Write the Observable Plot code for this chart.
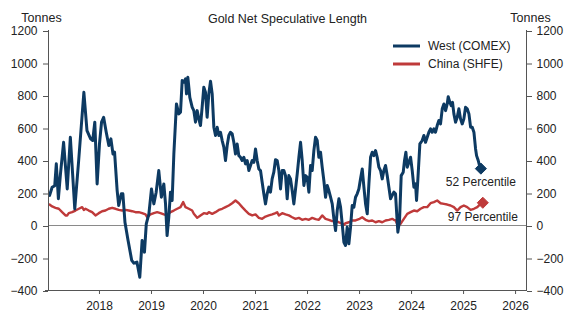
<!DOCTYPE html>
<html><head><meta charset="utf-8">
<script src="https://cdn.jsdelivr.net/npm/d3@7"></script>
<script src="https://cdn.jsdelivr.net/npm/@observablehq/plot@0.6"></script>
<style>body{margin:0;background:#fff} #chart{width:573px;height:322px}</style>
</head><body><div id="chart"></div>
<script>
// ---- data (decimal years, tonnes) ----
const westYears = [2017.04,2017.09,2017.14,2017.17,2017.21,2017.25,2017.31,2017.38,2017.44,2017.525,2017.60,2017.70,2017.76,2017.83,2017.87,2017.91,2017.955,2018.00,2018.04,2018.08,2018.13,2018.18,2018.22,2018.26,2018.29,2018.34,2018.37,2018.42,2018.45,2018.49,2018.55,2018.62,2018.66,2018.72,2018.775,2018.82,2018.865,2018.90,2018.95,2019.00,2019.045,2019.09,2019.14,2019.19,2019.237,2019.27,2019.30,2019.333,2019.365,2019.397,2019.43,2019.48,2019.525,2019.558,2019.59,2019.622,2019.654,2019.673,2019.699,2019.718,2019.737,2019.782,2019.814,2019.846,2019.878,2019.91,2019.942,2019.974,2020.006,2020.038,2020.07,2020.102,2020.135,2020.167,2020.199,2020.231,2020.263,2020.295,2020.327,2020.359,2020.391,2020.423,2020.455,2020.487,2020.519,2020.551,2020.583,2020.615,2020.647,2020.679,2020.711,2020.743,2020.776,2020.808,2020.84,2020.872,2020.904,2020.936,2020.968,2021.0,2021.032,2021.064,2021.096,2021.128,2021.16,2021.192,2021.224,2021.256,2021.288,2021.32,2021.352,2021.384,2021.417,2021.449,2021.481,2021.513,2021.545,2021.577,2021.609,2021.641,2021.673,2021.705,2021.737,2021.77,2021.802,2021.834,2021.866,2021.898,2021.93,2021.962,2021.994,2022.026,2022.058,2022.09,2022.122,2022.154,2022.186,2022.218,2022.25,2022.282,2022.314,2022.347,2022.379,2022.41,2022.443,2022.475,2022.507,2022.539,2022.571,2022.603,2022.635,2022.667,2022.699,2022.731,2022.763,2022.795,2022.827,2022.859,2022.891,2022.923,2022.955,2022.987,2023.019,2023.052,2023.084,2023.116,2023.148,2023.18,2023.212,2023.244,2023.276,2023.308,2023.34,2023.372,2023.404,2023.436,2023.468,2023.5,2023.532,2023.564,2023.596,2023.628,2023.66,2023.692,2023.711,2023.737,2023.769,2023.801,2023.84,2023.865,2023.891,2023.917,2023.949,2023.981,2024.013,2024.045,2024.077,2024.096,2024.122,2024.16,2024.205,2024.237,2024.269,2024.301,2024.333,2024.365,2024.397,2024.429,2024.461,2024.493,2024.525,2024.557,2024.59,2024.622,2024.654,2024.686,2024.705,2024.737,2024.763,2024.788,2024.814,2024.846,2024.878,2024.91,2024.942,2024.974,2025.006,2025.038,2025.07,2025.103,2025.135,2025.167,2025.199,2025.231,2025.25,2025.282,2025.314,2025.333];
const westValues = [185,235,245,380,165,318,512,225,543,102,400,820,584,533,523,636,256,502,636,666,574,492,533,440,451,215,123,195,195,20,-92,-215,-232,-225,-318,-92,-164,10,72,225,133,205,338,174,256,133,-62,51,205,154,440,748,687,697,892,882,902,810,912,851,789,728,707,636,707,656,615,728,851,820,666,810,888,810,605,554,605,554,574,523,482,400,492,554,574,564,512,440,502,430,420,400,420,379,400,338,369,400,389,471,400,348,338,266,195,133,195,236,205,287,328,405,400,338,225,338,338,307,164,307,287,215,133,225,318,420,512,400,246,307,297,205,369,338,461,543,523,420,451,359,277,174,246,215,174,133,41,-31,92,164,113,10,-103,-123,-10,-113,-10,123,113,174,195,225,287,348,236,133,72,256,420,451,430,461,420,359,338,287,338,369,307,236,164,185,205,195,92,-41,31,307,328,400,451,359,389,420,338,236,256,154,287,502,523,554,512,543,574,595,574,595,574,615,646,625,718,748,707,748,793,758,738,758,687,636,666,718,656,625,656,728,718,687,605,605,574,471,430,400,359,350];

const chinaYears = [2017.04,2017.09,2017.154,2017.218,2017.282,2017.346,2017.378,2017.41,2017.474,2017.538,2017.603,2017.667,2017.699,2017.731,2017.795,2017.859,2017.923,2017.987,2018.051,2018.115,2018.179,2018.244,2018.308,2018.372,2018.436,2018.5,2018.564,2018.628,2018.692,2018.756,2018.821,2018.885,2018.917,2018.981,2019.045,2019.109,2019.173,2019.237,2019.301,2019.365,2019.429,2019.494,2019.558,2019.609,2019.654,2019.718,2019.782,2019.814,2019.878,2019.942,2020.006,2020.07,2020.103,2020.167,2020.231,2020.295,2020.359,2020.423,2020.487,2020.551,2020.615,2020.679,2020.744,2020.808,2020.872,2020.936,2021.0,2021.064,2021.128,2021.192,2021.256,2021.321,2021.385,2021.417,2021.449,2021.513,2021.577,2021.641,2021.705,2021.769,2021.833,2021.897,2021.962,2022.026,2022.09,2022.154,2022.218,2022.282,2022.346,2022.41,2022.474,2022.539,2022.603,2022.667,2022.699,2022.731,2022.795,2022.859,2022.923,2022.987,2023.051,2023.115,2023.18,2023.244,2023.308,2023.372,2023.436,2023.5,2023.564,2023.628,2023.66,2023.692,2023.737,2023.788,2023.852,2023.917,2023.981,2024.045,2024.109,2024.173,2024.237,2024.301,2024.365,2024.429,2024.493,2024.558,2024.622,2024.686,2024.75,2024.814,2024.878,2024.942,2025.006,2025.07,2025.135,2025.199,2025.263,2025.327,2025.37];
const chinaValues = [129,117,109,103,82,62,62,76,82,92,103,113,96,103,92,82,62,76,88,92,103,109,103,96,92,96,92,88,82,82,76,68,51,68,76,82,76,68,62,82,92,103,113,144,113,103,92,72,47,62,76,72,82,72,82,96,103,113,123,137,154,137,113,92,72,62,68,47,41,55,62,68,76,82,62,76,68,62,51,41,47,35,41,35,47,39,35,62,41,35,27,27,20,10,4,14,20,31,31,39,51,35,27,31,20,27,20,31,35,41,35,31,0,10,41,72,82,92,88,103,113,113,137,144,154,137,133,129,123,113,92,113,123,113,96,103,113,133,140];

const seriesNames = ["West (COMEX)", "China (SHFE)"];
const percentileLabels = ["52 Percentile", "97 Percentile"];
const xTicks = [2018, 2019, 2020, 2021, 2022, 2023, 2024, 2025, 2026];
const yTicks = [-400, -200, 0, 200, 400, 600, 800, 1000, 1200];
const xDomain = [2017.02, 2026.21];
const yDomain = [-400, 1200];
const titleText = "Gold Net Speculative Length";
const unitText = "Tonnes";

// ---- build tables ----
const west = westYears.map((x, i) => ({x, y: westValues[i]}));
const china = chinaYears.map((x, i) => ({x, y: chinaValues[i]}));
const lastPoints = [
  {...west[west.length - 1], label: percentileLabels[0], c: 0},
  {...china[china.length - 1], label: percentileLabels[1], c: 1}
];

const westColor = "#0d3a62";
const chinaColor = "#bf3a3a";
const axisColor = "#555";
const font = 'Arial, "Liberation Sans", sans-serif';
const fmt = d => d < 0 ? "\u2212" + Math.abs(d) : String(d);

const W = 573, H = 322, mL = 48, mR = 47, mT = 30, mB = 32;

const chart = Plot.plot({
  width: W, height: H,
  marginLeft: mL, marginRight: mR, marginTop: mT, marginBottom: mB,
  style: {fontFamily: font, fontSize: "12px", color: "#222", background: "#fff", overflow: "visible"},
  x: {type: "linear", domain: xDomain},
  y: {domain: yDomain},
  marks: [
    Plot.ruleY([0], {stroke: "#8a8a8a", strokeWidth: 1}),
    Plot.line(china, {x: "x", y: "y", stroke: chinaColor, strokeWidth: 2.4, strokeLinejoin: "round"}),
    Plot.line(west, {x: "x", y: "y", stroke: westColor, strokeWidth: 3, strokeLinejoin: "round"}),
    Plot.dot(lastPoints, {x: "x", y: "y", symbol: "diamond2", r: 5, fill: d => d.c === 0 ? westColor : chinaColor, stroke: d => d.c === 0 ? westColor : chinaColor, strokeWidth: 1}),
    Plot.text(lastPoints, {x: "x", y: "y", text: "label", dy: 14, fontSize: 12, fill: "#222"}),
    Plot.frame({anchor: "left", stroke: axisColor}),
    Plot.frame({anchor: "right", stroke: axisColor}),
    Plot.frame({anchor: "bottom", stroke: axisColor, insetLeft: -3}),
    Plot.axisX({ticks: xTicks, tickFormat: d => String(d), tickSize: 4, tickPadding: 7, label: null, stroke: axisColor, fontSize: 12}),
    Plot.axisY({anchor: "left", ticks: yTicks, tickFormat: fmt, tickSize: 5, tickPadding: 6, label: null, stroke: axisColor, fontSize: 12, dy: 1}),
    Plot.axisY({anchor: "right", ticks: yTicks, tickFormat: fmt, tickSize: 5, tickPadding: 5, label: null, stroke: axisColor, fontSize: 12, dy: 1}),
    Plot.text([titleText], {frameAnchor: "top", dy: -16, fontSize: 12.5, fill: "#222"}),
    Plot.text([unitText], {frameAnchor: "top-left", textAnchor: "middle", dx: -7, dy: -17, fontSize: 12.5, fill: "#222"}),
    Plot.text([unitText], {frameAnchor: "top-right", textAnchor: "middle", dx: 4, dy: -17, fontSize: 12.5, fill: "#222"})
  ]
});
document.getElementById("chart").appendChild(chart);

// ---- legend (inside the frame, top-right) ----
const svg = d3.select(chart);
const lg = svg.append("g").attr("font-family", font).attr("font-size", 12).attr("text-anchor", "start");
const legendColors = [westColor, chinaColor];
seriesNames.forEach((name, i) => {
  const y = 46 + i * 18;
  lg.append("line").attr("x1", 393).attr("x2", 420).attr("y1", y).attr("y2", y)
    .attr("stroke", legendColors[i]).attr("stroke-width", 3);
  lg.append("text").attr("x", 428).attr("y", y).attr("dy", "0.35em").attr("fill", "#222")
    .attr("text-anchor", "start").text(name);
});
</script>
</body></html>
